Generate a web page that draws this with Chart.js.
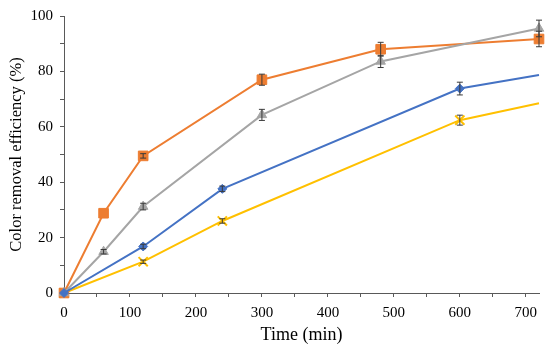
<!DOCTYPE html>
<html>
<head>
<meta charset="utf-8">
<script src="https://cdn.jsdelivr.net/npm/chart.js@4"></script>
<style>
  html, body { margin: 0; padding: 0; background: #fff; }
  #wrap { width: 550px; height: 351px; }
</style>
</head>
<body>
<div id="wrap"><canvas id="chart" width="550" height="351"></canvas></div>
<script>
// Datos
const orangeTime = [0, 60, 120, 300, 480, 720];
const orangeVals = [0, 28.8, 49.5, 77, 88, 91.7];
const orangeErr  = [0, 0, 0.8, 2, 2.5, 2.8];

const grayTime = [0, 60, 120, 300, 480, 720];
const grayVals = [0, 14.9, 31.2, 64.3, 83.6, 95.5];
const grayErr  = [0, 0.8, 1.2, 2, 2.2, 3];

const blueTime = [0, 120, 240, 600, 720];
const blueVals = [0, 16.8, 37.6, 73.8, 78.7];
const blueErr  = [0, 0.8, 1, 2.3, 0];

const yellowTime = [0, 120, 240, 600, 720];
const yellowVals = [0, 11.3, 26, 62.4, 68.5];
const yellowErr  = [0, 0.6, 0.8, 1.8, 0];

const xTicks = [0, 100, 200, 300, 400, 500, 600, 700];
const yTicks = [0, 20, 40, 60, 80, 100];

function toPoints(t, v) {
    return t.map((x, i) => ({ x: x, y: v[i] }));
}

// Plugin para las barras de error
const errorBars = {
    id: 'errorBars',
    afterDatasetsDraw(chart) {
        const ctx = chart.ctx;
        const ys = chart.scales.y;
        ctx.save();
        ctx.strokeStyle = '#3a3a3a';
        ctx.lineWidth = 1;
        chart.data.datasets.forEach((ds, di) => {
            const meta = chart.getDatasetMeta(di);
            meta.data.forEach((pt, i) => {
                const e = ds.errors[i];
                if (!e) return;
                const v = ds.data[i].y;
                const y1 = ys.getPixelForValue(v + e);
                const y2 = ys.getPixelForValue(v - e);
                ctx.beginPath();
                ctx.moveTo(pt.x, y1); ctx.lineTo(pt.x, y2);
                ctx.moveTo(pt.x - 3, y1); ctx.lineTo(pt.x + 3, y1);
                ctx.moveTo(pt.x - 3, y2); ctx.lineTo(pt.x + 3, y2);
                ctx.stroke();
            });
        });
        ctx.restore();
    }
};

function makeSet(label, t, v, err, color, style, radius, lastHidden) {
    const radii = t.map((_, i) => (lastHidden && i === t.length - 1) ? 0 : radius);
    return {
        label: label,
        data: toPoints(t, v),
        errors: err,
        borderColor: color,
        backgroundColor: color,
        borderWidth: 2,
        pointStyle: style,
        pointRadius: radii,
        pointBorderWidth: style === 'crossRot' ? 2 : 1,
        pointBorderColor: color,
        pointBackgroundColor: color,
        tension: 0,
        clip: false
    };
}

const config = {
    type: 'line',
    data: {
        datasets: [
            makeSet('A', blueTime, blueVals, blueErr, '#4472C4', 'rectRot', 4.5, true),
            makeSet('B', grayTime, grayVals, grayErr, '#A5A5A5', 'triangle', 5.5, false),
            makeSet('C', orangeTime, orangeVals, orangeErr, '#ED7D31', 'rect', 6.8, false),
            makeSet('D', yellowTime, yellowVals, yellowErr, '#FFC000', 'crossRot', 6.5, true)
        ]
    },
    options: {
        responsive: false,
        animation: false,
        layout: { padding: { top: 14, right: 11, left: 0, bottom: 0 } },
        plugins: { legend: { display: false }, tooltip: { enabled: false } },
        scales: {
            x: {
                type: 'linear',
                min: 0, max: 720,
                afterBuildTicks: s => { s.ticks = []; for (let v = 0; v <= 700; v += 50) s.ticks.push({ value: v }); },
                afterFit: s => { s.height = 58; },
                ticks: {
                    color: '#000',
                    font: { family: 'Liberation Serif', size: 15 },
                    padding: 7,
                    maxRotation: 0,
                    autoSkip: false,
                    callback: v => xTicks.includes(v) ? String(v) : ''
                },
                grid: { drawOnChartArea: false, drawTicks: true, tickLength: 4, color: '#595959' },
                border: { color: '#595959', width: 1 },
                title: {
                    display: true, text: 'Time (min)', color: '#000',
                    font: { family: 'Liberation Serif', size: 18 },
                    padding: { top: 0, bottom: 5 }
                }
            },
            y: {
                min: 0, max: 100,
                afterBuildTicks: s => { s.ticks = []; for (let v = 0; v <= 100; v += 10) s.ticks.push({ value: v }); },
                afterFit: s => { s.width = 64; },
                ticks: {
                    color: '#000',
                    font: { family: 'Liberation Serif', size: 15 },
                    padding: 7,
                    autoSkip: false,
                    callback: v => yTicks.includes(v) ? String(v) : ''
                },
                grid: { drawOnChartArea: false, drawTicks: true, tickLength: 4, color: '#595959' },
                border: { color: '#595959', width: 1 },
                title: {
                    display: true, text: 'Color removal efficiency (%)', color: '#000',
                    font: { family: 'Liberation Serif', size: 16.5 },
                    padding: { top: 7, bottom: 0 }
                }
            }
        }
    },
    plugins: [errorBars]
};

const chart = new Chart(document.getElementById('chart'), config);
</script>
</body>
</html>
